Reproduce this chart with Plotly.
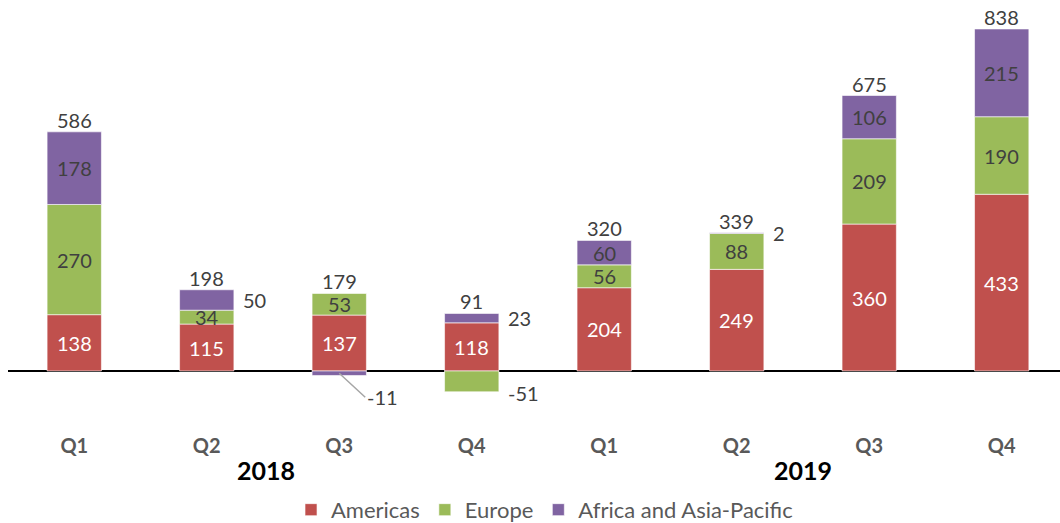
import plotly.graph_objects as go

quarters = ["Q1", "Q2", "Q3", "Q4", "Q1", "Q2", "Q3", "Q4"]
years = ["2018", "2019"]
americas = [138, 115, 137, 118, 204, 249, 360, 433]
europe = [270, 34, 53, -51, 56, 88, 209, 190]
africa_apac = [178, 50, -11, 23, 60, 2, 106, 215]
totals = [586, 198, 179, 91, 320, 339, 675, 838]
# which segment labels sit beside the bar instead of in it
europe_outside = [False, False, False, True, False, False, False, False]
africa_outside = [False, True, True, True, False, True, False, False]

series = [
    ("Americas", americas, "#C0504D", "white", [False] * 8),
    ("Europe", europe, "#9BBB59", "#404040", europe_outside),
    ("Africa and Asia-Pacific", africa_apac, "#8064A2", "#404040", africa_outside),
]

FONT = "Lato, Calibri, sans-serif"
LBL = 20
x = list(range(len(quarters)))

fig = go.Figure()
annotations = []
pos_base = [0] * 8
neg_base = [0] * 8
for name, vals, color, tcolor, outside in series:
    fig.add_trace(go.Bar(
        x=x, y=vals, name=name, marker_color=color,
        marker_line=dict(color="white", width=0.6), width=0.41,
    ))
    for i, v in enumerate(vals):
        if v >= 0:
            mid = pos_base[i] + v / 2
            pos_base[i] += v
        else:
            mid = neg_base[i] + v / 2
            neg_base[i] += v
        if not outside[i]:
            annotations.append(dict(x=i, y=mid, text=str(v), showarrow=False,
                                    font=dict(size=LBL, color=tcolor, family=FONT)))
        elif v < 0 and name != "Europe":
            annotations.append(dict(x=i, y=mid, text=str(v), showarrow=True,
                                    arrowhead=0, arrowcolor="#A6A6A6", arrowwidth=1.5,
                                    ax=26, ay=24, xanchor="left",
                                    font=dict(size=LBL, color="#404040", family=FONT)))
        else:
            annotations.append(dict(x=i, y=mid, text=str(v), showarrow=False,
                                    xanchor="left", xshift=34,
                                    yshift=-12 if v < 0 else 0,
                                    font=dict(size=LBL, color="#404040", family=FONT)))

for i, t in enumerate(totals):
    annotations.append(dict(x=i, y=max(pos_base[i], t), text=str(t), showarrow=False,
                            yanchor="bottom", yshift=-2,
                            font=dict(size=LBL, color="#404040", family=FONT)))

for yr, xpos in zip(years, [1.45, 5.5]):
    annotations.append(dict(x=xpos, y=-0.092, xref="x", yref="paper", yanchor="middle",
                            text="<b>" + yr + "</b>", showarrow=False,
                            font=dict(size=25, color="black", family=FONT)))

fig.update_layout(
    barmode="relative",
    width=1060, height=523,
    margin=dict(l=8, r=0, t=20, b=91, autoexpand=False),
    plot_bgcolor="white", paper_bgcolor="white",
    font=dict(family=FONT, color="#595959"),
    annotations=annotations,
    showlegend=True,
    legend=dict(orientation="h", x=0.51, xanchor="center", y=-0.189, yanchor="middle",
                font=dict(size=22, color="#595959", family=FONT), traceorder="normal"),
    xaxis=dict(tickvals=x, ticktext=["<b>" + q + "</b>" for q in quarters],
               range=[-0.5, 7.44], showgrid=False, showline=False, ticks="",
               tickfont=dict(size=20, color="#595959", family=FONT)),
    yaxis=dict(range=[-149.5, 860], showgrid=False, showticklabels=False,
               zeroline=True, zerolinecolor="black", zerolinewidth=1.5),
)

fig.write_html("out.html", post_script="document.body.style.margin='0';",
               config={"displayModeBar": False})
